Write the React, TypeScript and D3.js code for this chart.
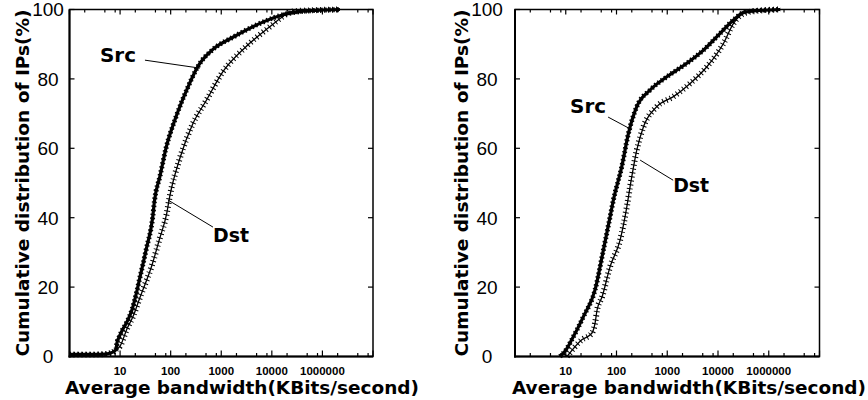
import React, { useEffect, useRef } from 'react'
import * as d3 from 'd3'

// ---- data (bandwidth in KBits/s, cumulative % of IPs) ----
// left panel
const leftSrcBw = [1, 2, 3, 5, 7, 8.3, 8.7, 9.5, 11, 13.7, 17.2, 21.6, 24, 33, 44, 48, 61.5, 80.7, 127, 210, 346, 685, 1700, 5820, 16600, 35900, 89000, 222000]
const leftSrcPct = [0.6, 0.6, 0.6, 0.7, 1.2, 2, 4, 5.5, 7.5, 10, 13.5, 19, 22, 31, 40, 45, 52, 60, 69, 77, 83.6, 88.5, 92, 96, 98.5, 99.4, 99.8, 100]
const leftDstBw = [1, 2, 3, 5, 7, 8.3, 10, 13.7, 18, 24.7, 27.9, 42, 60.6, 83, 95.5, 151, 273, 516, 1071, 2940, 9100, 16600, 24900, 71000, 222000]
const leftDstPct = [0.6, 0.6, 0.6, 0.7, 1.2, 2, 3, 8, 11.5, 17, 19, 26, 34, 41, 46, 57, 67, 74, 82, 89, 95, 98, 99.4, 99.8, 100]

// right panel
const rightSrcBw = [7.7, 10.2, 13.1, 22.3, 37.8, 55.2, 74.8, 86.9, 127, 172, 251, 460, 982, 2430, 5180, 11000, 20200, 34400, 168000]
const rightSrcPct = [0, 2, 4.8, 11.5, 19.2, 30.7, 40.3, 45.1, 54.7, 64.3, 72, 76.8, 80.6, 84.5, 88.3, 93.1, 97, 99.3, 100]
const rightDstBw = [10.6, 20.7, 32.6, 37.8, 41.4, 52, 74.8, 118, 160, 185, 251, 340, 624, 1325, 2830, 6040, 12800, 20200, 34400, 68000, 168000]
const rightDstPct = [0, 4.8, 6.7, 9.6, 13.4, 17.2, 25.9, 33.6, 43.2, 48.9, 59.5, 66.2, 72, 74.9, 78.7, 83.5, 90.2, 96, 99, 99.7, 100]

// axes
const yTicks = [0, 20, 40, 60, 80, 100]
const xTickValues = [10, 100, 1000, 10000, 100000]
const xTickLabels = ['10', '100', '1000', '10000', '1000000']
const xMajor = [1, 10, 100, 1000, 10000, 100000, 1000000]
const minorMult = [2, 5, 8]

// annotations: [label bw, label pct, line start bw, pct, line end bw, pct]
const leftSrcNote = [4.0, 84.9, 31, 85.4, 379, 83.1]
const leftDstNote = [685, 33, 88.5, 45.1, 685, 37.3]
const rightSrcNote = [12.2, 70.2, 68.3, 69, 203, 65.3]
const rightDstNote = [1307, 47.4, 292, 56.6, 1307, 50.8]

interface PanelProps {
    x0: number;
    x1: number;
    tickLabelX: number;
    titleX: number;
    xLabelX: number;
    src: [number[], number[]];
    dst: [number[], number[]];
    srcNote: number[];
    dstNote: number[];
}

const top = 9.5, bottom = 356.5

function drawPanel(svg: d3.Selection<SVGSVGElement, unknown, null, undefined>, p: PanelProps) {
    const x = d3.scaleLog().domain([1, 1e6]).range([p.x0, p.x1])
    const y = d3.scaleLinear().domain([0, 100]).range([bottom, top])
    const g = svg.append("g")

    // frame
    g.append("rect")
        .attr("x", p.x0).attr("y", top)
        .attr("width", p.x1 - p.x0).attr("height", bottom - top)
        .attr("fill", "none").attr("stroke", "#000").attr("stroke-width", 1.5)
    g.append("line").attr("x1", p.x0).attr("x2", p.x0).attr("y1", top).attr("y2", bottom + 1)
        .attr("stroke", "#000").attr("stroke-width", 2)
    g.append("line").attr("x1", p.x0 - 1).attr("x2", p.x1).attr("y1", bottom).attr("y2", bottom)
        .attr("stroke", "#000").attr("stroke-width", 2)

    // x ticks, bottom and top, pointing inward
    const minors: number[] = []
    xMajor.slice(0, -1).forEach(m => minorMult.forEach(k => minors.push(m * k)))
    const tickG = g.append("g").attr("stroke", "#000").attr("stroke-width", 1.2)
    xMajor.forEach(v => {
        tickG.append("line").attr("x1", x(v)).attr("x2", x(v)).attr("y1", bottom).attr("y2", bottom - 6)
        tickG.append("line").attr("x1", x(v)).attr("x2", x(v)).attr("y1", top).attr("y2", top + 5)
    })
    minors.forEach(v => {
        tickG.append("line").attr("x1", x(v)).attr("x2", x(v)).attr("y1", bottom).attr("y2", bottom - 3.5)
        tickG.append("line").attr("x1", x(v)).attr("x2", x(v)).attr("y1", top).attr("y2", top + 3)
    })
    yTicks.forEach(v => {
        tickG.append("line").attr("x1", p.x0).attr("x2", p.x0 + 5).attr("y1", y(v)).attr("y2", y(v))
        tickG.append("line").attr("x1", p.x1).attr("x2", p.x1 - 5).attr("y1", y(v)).attr("y2", y(v))
    })

    // tick labels
    g.append("g").selectAll("text")
        .data(yTicks).enter().append("text")
        .attr("x", p.tickLabelX)
        .attr("y", d => y(d))
        .attr("dy", "0.36em")
        .attr("text-anchor", "middle")
        .attr("font-family", "'Liberation Sans Narrow', 'Liberation Sans', sans-serif")
        .attr("font-size", 19)
        .text(d => d)
    g.append("g").selectAll("text")
        .data(xTickValues).enter().append("text")
        .attr("x", d => x(d))
        .attr("y", 375)
        .attr("text-anchor", "middle")
        .attr("font-family", "'Liberation Sans', sans-serif")
        .attr("font-weight", "bold")
        .attr("font-size", 11.5)
        .text((d, i) => xTickLabels[i])

    // axis titles
    g.append("text")
        .attr("x", p.xLabelX).attr("y", 394)
        .attr("font-family", "'DejaVu Sans', sans-serif")
        .attr("font-weight", "bold").attr("font-size", 18)
        .attr("textLength", 354).attr("lengthAdjust", "spacingAndGlyphs")
        .text("Average bandwidth(KBits/second)")
    g.append("text")
        .attr("transform", `translate(${p.titleX},${(top + bottom) / 2}) rotate(-90)`)
        .attr("text-anchor", "middle")
        .attr("font-family", "'DejaVu Sans', sans-serif")
        .attr("font-weight", "bold").attr("font-size", 18)
        .attr("textLength", 347).attr("lengthAdjust", "spacingAndGlyphs")
        .text("Cumulative distribution of IPs(%)")

    // curves
    const toPts = (s: [number[], number[]]) => s[0].map((b, i) => [x(b), y(s[1][i])] as [number, number])
    const path = d3.line().curve(d3.curveMonotoneX)
    const dstPts = toPts(p.dst)
    const srcPts = toPts(p.src)

    // Dst: thin line with cross marks
    g.append("path").attr("d", path(dstPts)).attr("fill", "none")
        .attr("stroke", "#000").attr("stroke-width", 1.3)
    g.append("path").attr("d", path(dstPts)).attr("fill", "none")
        .attr("stroke", "#000").attr("stroke-width", 6).attr("stroke-dasharray", "1 3")
    // Src: dense markers, looks like a heavy line
    g.append("path").attr("d", path(srcPts)).attr("fill", "none")
        .attr("stroke", "#000").attr("stroke-width", 3.2)
    g.append("path").attr("d", path(srcPts)).attr("fill", "none")
        .attr("stroke", "#000").attr("stroke-width", 5).attr("stroke-dasharray", "1.5 2.5")

    // labels with leader lines
    const note = (n: number[], label: string) => {
        g.append("line")
            .attr("x1", x(n[2])).attr("y1", y(n[3]))
            .attr("x2", x(n[4])).attr("y2", y(n[5]))
            .attr("stroke", "#000").attr("stroke-width", 1)
        g.append("text")
            .attr("x", x(n[0])).attr("y", y(n[1]))
            .attr("font-family", "'DejaVu Sans', sans-serif")
            .attr("font-weight", "bold").attr("font-size", 19)
            .attr("textLength", 36).attr("lengthAdjust", "spacingAndGlyphs")
            .text(label)
    }
    note(p.srcNote, "Src")
    note(p.dstNote, "Dst")
}

export default function App() {
    const ref = useRef<SVGSVGElement>(null)
    useEffect(() => {
        const svg = d3.select(ref.current)
        svg.selectAll("*").remove()
        drawPanel(svg, {
            x0: 69.5, x1: 373, tickLabelX: 48, titleX: 29, xLabelX: 65,
            src: [leftSrcBw, leftSrcPct], dst: [leftDstBw, leftDstPct],
            srcNote: leftSrcNote, dstNote: leftDstNote,
        })
        drawPanel(svg, {
            x0: 515, x1: 819.5, tickLabelX: 487, titleX: 468, xLabelX: 512,
            src: [rightSrcBw, rightSrcPct], dst: [rightDstBw, rightDstPct],
            srcNote: rightSrcNote, dstNote: rightDstNote,
        })
    }, [])
    return (
        <svg ref={ref} width={868} height={400}
            style={{ position: "absolute", left: 0, top: 0, background: "#fff" }} />
    )
}
